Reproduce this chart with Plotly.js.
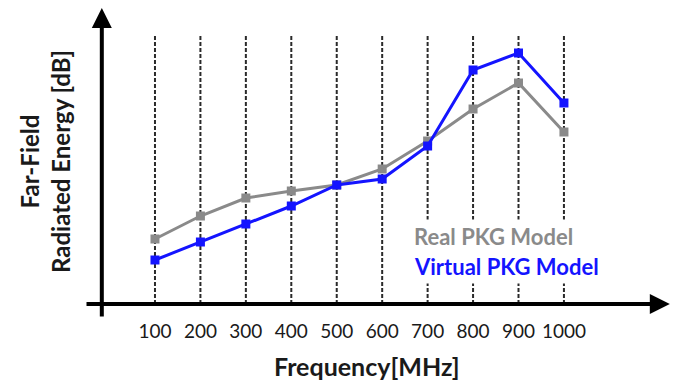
<!DOCTYPE html>
<html>
<head>
<meta charset="utf-8">
<script src="https://cdn.plot.ly/plotly-3.0.1.min.js"></script>
<style>
  html, body { margin: 0; padding: 0; background: #ffffff; }
  #chart { width: 673px; height: 384px; }
</style>
</head>
<body>
<div id="chart"></div>
<script>
// Frequency sweep points (MHz)
const frequencies = [100, 200, 300, 400, 500, 600, 700, 800, 900, 1000];
const tickLabels = ['100', '200', '300', '400', '500', '600', '700', '800', '900', '1000'];

// Far-field radiated energy (relative dB)
const realPkg    = [6.5, 8.8, 10.6, 11.3, 11.9, 13.5, 16.3, 19.5, 22.1, 17.2];
const virtualPkg = [4.4, 6.2, 8.0, 9.8, 11.9, 12.5, 15.8, 23.4, 25.1, 20.1];

const seriesNames = ['Real PKG Model', 'Virtual PKG Model'];
const seriesColors = ['#8a8a8a', '#1414ff'];

const FONT = 'Lato, "Open Sans", sans-serif';

const traces = [
  {
    x: frequencies, y: realPkg, name: seriesNames[0],
    type: 'scatter', mode: 'lines+markers',
    line: { color: seriesColors[0], width: 3 },
    marker: { symbol: 'square', size: 9, color: seriesColors[0] }
  },
  {
    x: frequencies, y: virtualPkg, name: seriesNames[1],
    type: 'scatter', mode: 'lines+markers',
    line: { color: seriesColors[1], width: 3 },
    marker: { symbol: 'square', size: 9, color: seriesColors[1] }
  }
];

// Vertical dashed guide at every frequency point
const guideTop = 26.9;
const shapes = frequencies.map(f => ({
  type: 'line', xref: 'x', yref: 'y', layer: 'below',
  x0: f, x1: f, y0: 0, y1: guideTop,
  line: { color: '#2a2a2a', width: 2, dash: '4px,2px' }
}));

// Hand-drawn style axes with arrow heads
const xMin = -54, xMax = 1233, yAxisX = -17, yMin = -1.4, yMax = 29.6;
const axisArrows = [
  { x: xMax, y: 0, ax: xMin, ay: 0 },
  { x: yAxisX, y: yMax, ax: yAxisX, ay: yMin }
].map(a => ({
  x: a.x, y: a.y, ax: a.ax, ay: a.ay,
  xref: 'x', yref: 'y', axref: 'x', ayref: 'y',
  text: '', showarrow: true, arrowhead: 2, arrowsize: 1,
  arrowwidth: 4, arrowcolor: '#000000', standoff: 0, startstandoff: 0
}));

// Series labels drawn as coloured text blocks
const seriesLabels = [
  { text: seriesNames[0], y: 6.8, color: seriesColors[0] },
  { text: seriesNames[1], y: 3.8, color: seriesColors[1] }
].map(s => ({
  x: 661, y: s.y, xref: 'x', yref: 'y',
  xanchor: 'left', yanchor: 'middle', showarrow: false,
  text: '<b>' + s.text + '</b>', bgcolor: '#ffffff', borderpad: 3,
  font: { family: FONT, size: 22, color: s.color }
}));

// Axis titles
const yTitle = {
  xref: 'paper', yref: 'paper', x: -0.059, y: 0.475,
  xanchor: 'center', yanchor: 'middle', textangle: -90, showarrow: false,
  text: '<b>Far-Field</b><br><b>Radiated Energy [dB]</b>',
  font: { family: FONT, size: 24, color: '#1a1a1a' }
};
const xTitle = {
  xref: 'paper', yref: 'paper', x: 0.484, y: -0.207,
  xanchor: 'center', yanchor: 'middle', showarrow: false,
  text: '<b>Frequency[MHz]</b>',
  font: { family: FONT, size: 25, color: '#1a1a1a' }
};

const layout = {
  width: 673, height: 384,
  margin: { l: 80, r: 0, t: 5, b: 80 },
  paper_bgcolor: '#ffffff', plot_bgcolor: '#ffffff',
  showlegend: false,
  xaxis: {
    range: [-65, 1240],
    tickmode: 'array', tickvals: frequencies, ticktext: tickLabels,
    ticks: 'outside', ticklen: 10, tickcolor: 'rgba(0,0,0,0)',
    showgrid: false, zeroline: false, showline: false,
    tickfont: { family: FONT, size: 19, color: '#1a1a1a' }
  },
  yaxis: {
    range: [0, 29.9],
    showticklabels: false, ticks: '', showgrid: false,
    zeroline: false, showline: false
  },
  shapes: shapes,
  annotations: axisArrows.concat(seriesLabels, [yTitle, xTitle])
};

Plotly.newPlot('chart', traces, layout, { displayModeBar: false, staticPlot: true });
</script>
</body>
</html>
